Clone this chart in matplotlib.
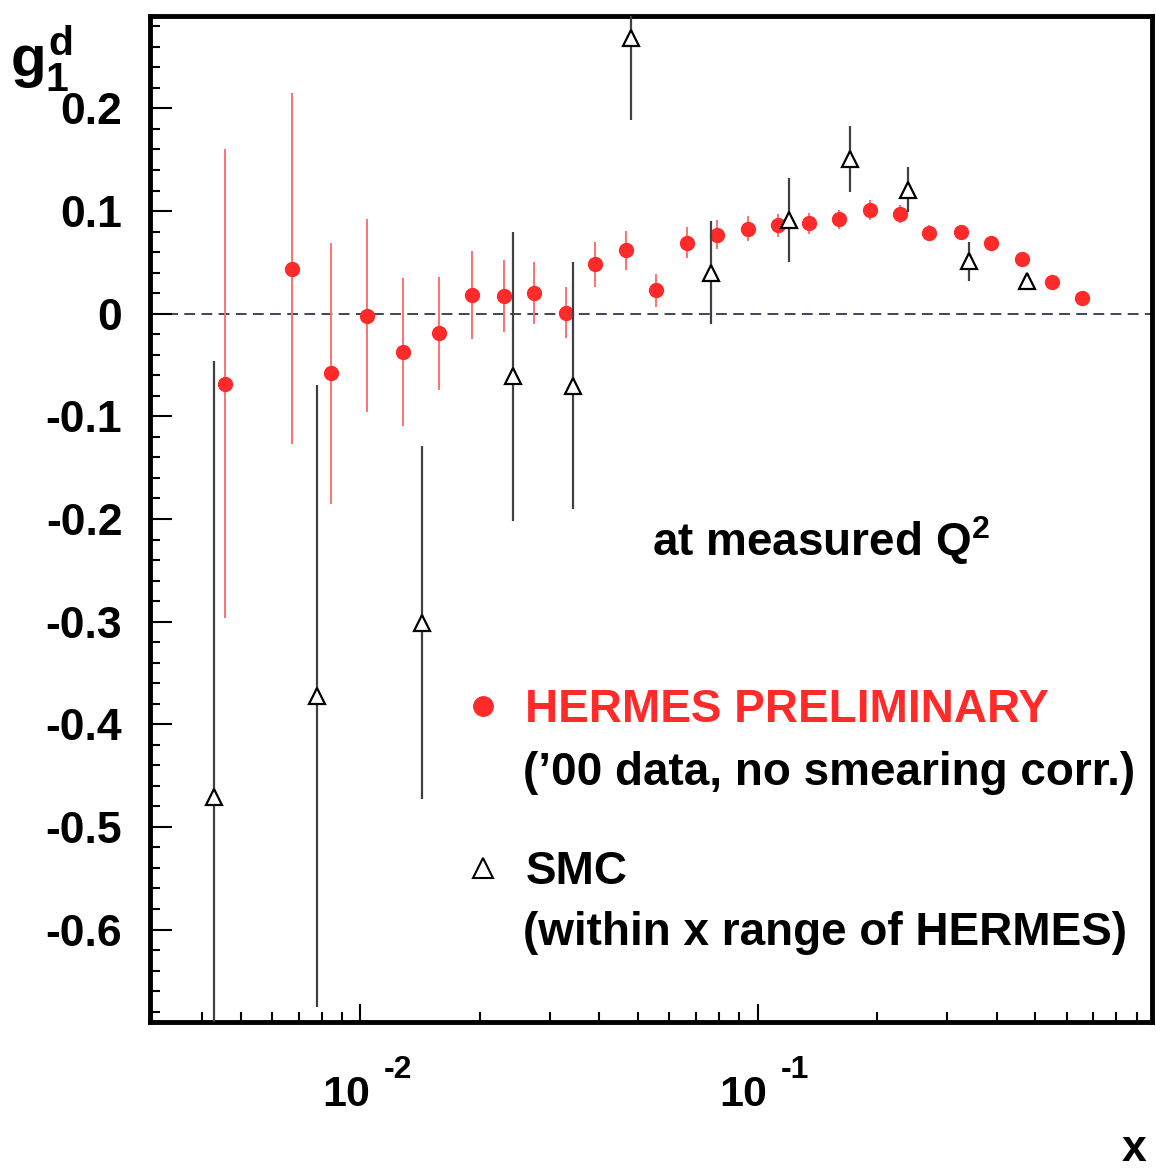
import numpy as np
import matplotlib
matplotlib.use('Agg')
import matplotlib.pyplot as plt
from matplotlib.lines import Line2D
from matplotlib.transforms import ScaledTranslation
from matplotlib.ticker import MultipleLocator, LogLocator, NullFormatter, FuncFormatter

plt.rcParams['font.family'] = ['Liberation Sans', 'DejaVu Sans']
plt.rcParams['font.weight'] = 'bold'
plt.rcParams['axes.unicode_minus'] = False
plt.rcParams['mathtext.fontset'] = 'custom'
plt.rcParams['mathtext.rm'] = 'Liberation Sans:bold'
plt.rcParams['mathtext.it'] = 'Liberation Sans:bold'
plt.rcParams['mathtext.bf'] = 'Liberation Sans:bold'

# HERMES preliminary, '00 data
x_hermes = [0.00456, 0.00674, 0.00843, 0.01041, 0.01281, 0.01575, 0.01911, 0.02305,
            0.02741, 0.03293, 0.03906, 0.04659, 0.05566, 0.06631, 0.07917, 0.09454,
            0.1127, 0.1346, 0.1600, 0.1922, 0.2287, 0.2705, 0.3249, 0.3866, 0.4626,
            0.5501, 0.6567]
g1_hermes = [-0.068, 0.044, -0.058, -0.002, -0.037, -0.019, 0.018, 0.017, 0.020,
             0.001, 0.048, 0.062, 0.023, 0.069, 0.077, 0.083, 0.086, 0.088, 0.092,
             0.101, 0.097, 0.079, 0.080, 0.069, 0.053, 0.031, 0.015]
err_hermes = [0.228, 0.171, 0.127, 0.094, 0.072, 0.055, 0.043, 0.035, 0.030, 0.025,
              0.022, 0.019, 0.016, 0.015, 0.014, 0.012, 0.011, 0.010, 0.009, 0.010,
              0.009, 0.007, 0.006, 0.006, 0.006, 0.005, 0.005]

# SMC, within x range of HERMES
x_smc = [0.00430, 0.00780, 0.01429, 0.02427, 0.03436, 0.04797, 0.0762, 0.1203,
         0.1706, 0.2391, 0.3409, 0.476]
g1_smc = [-0.471, -0.372, -0.301, -0.061, -0.070, 0.269, 0.040, 0.091, 0.151,
          0.121, 0.051, 0.032]
err_smc = [0.425, 0.303, 0.172, 0.141, 0.120, 0.080, 0.050, 0.041, 0.032, 0.022,
           0.019, 0.007]

# x axis decades and their exponents
x_major = [0.01, 0.1]
x_exponents = ['-2', '-1']

red = '#ff2a2a'

fig = plt.figure(figsize=(11.56, 11.71), dpi=100)
ax = fig.add_axes([0.1298, 0.1273, 0.8667, 0.8590])

ax.axhline(0, color='#333355', ls=(0, (6, 3.5)), lw=1.3, zorder=1)

ax.errorbar(x_hermes, g1_hermes, yerr=err_hermes, fmt='o', color=red, ms=10,
            ecolor='#ff7070', elinewidth=1.4, capsize=0, zorder=3)
ax.errorbar(x_smc, g1_smc, yerr=err_smc, fmt='^', mfc='white', mec='black', mew=1.6,
            ms=11, ecolor='#404040', elinewidth=1.6, capsize=0, zorder=4)

ax.set_xscale('log')
ax.set_xlim(0.00296, 0.983)
ax.set_ylim(-0.69, 0.29)

ax.yaxis.set_major_locator(MultipleLocator(0.1))
ax.yaxis.set_minor_locator(MultipleLocator(0.02))
ax.yaxis.set_major_formatter(FuncFormatter(lambda v, p: '0' if abs(v) < 1e-9 else '%.1f' % v))
ax.set_xticks(x_major, labels=['10'] * len(x_major))
ax.xaxis.set_minor_locator(LogLocator(base=10, subs=np.arange(2, 10)))
ax.xaxis.set_minor_formatter(NullFormatter())

ax.tick_params(axis='both', which='both', direction='in', top=False, right=False, width=1.5)
ax.tick_params(axis='y', which='major', length=16, labelsize=32, pad=20)
ax.tick_params(axis='y', which='minor', length=7)
ax.tick_params(axis='x', which='major', length=13, labelsize=31, pad=38)
ax.tick_params(axis='x', which='minor', length=7)
for s in ax.spines.values():
    s.set_linewidth(3.5)

# "10" sits a little left of its tick, exponent raised to its right (ROOT style)
shift = ScaledTranslation(-14 / 100, 0, fig.dpi_scale_trans)
for lab in ax.get_xticklabels():
    lab.set_transform(lab.get_transform() + shift)
for xv, ex in zip(x_major, x_exponents):
    ax.annotate(ex, xy=(xv, 0), xycoords=('data', 'axes fraction'),
                xytext=(17, -40.5), textcoords='offset points',
                fontsize=23, ha='left', va='baseline', annotation_clip=False)

ax.set_ylabel(r'$g_1^d$', fontsize=42, rotation=0, ha='left', va='center')
ax.yaxis.set_label_coords(-0.14, 0.958)
ax.set_xlabel('x', fontsize=32, fontweight='bold', ha='center', va='center')
ax.xaxis.set_label_coords(0.982, -0.127)

ax.text(0.501, 0.479, r'at measured Q$^{2}$', transform=ax.transAxes, fontsize=33,
        ha='left', va='center')

handles = [Line2D([], [], ls='none', marker='o', color=red, ms=14),
           Line2D([], [], ls='none', marker='^', mfc='white', mec='black', mew=1.5, ms=15)]
leg = ax.legend(handles, ['HERMES PRELIMINARY', 'SMC'], loc='center left',
                bbox_to_anchor=(0.3187, 0.2296), frameon=False, fontsize=33,
                borderpad=0, borderaxespad=0, handlelength=0.6, handletextpad=0.62,
                labelspacing=2.56)
leg.get_texts()[0].set_color(red)

ax.text(0.3723, 0.2475, "(\u201900 data, no smearing corr.)", transform=ax.transAxes,
        fontsize=33, ha='left', va='center')
ax.text(0.3723, 0.0885, '(within x range of HERMES)', transform=ax.transAxes,
        fontsize=33, ha='left', va='center')

fig.savefig('out.png', dpi=100)
